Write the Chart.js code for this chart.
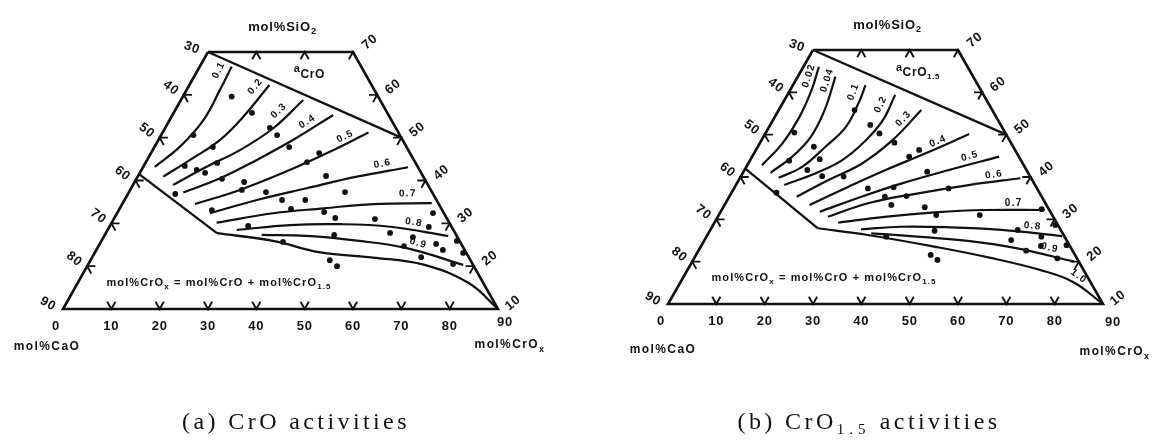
<!DOCTYPE html>
<html>
<head>
<meta charset="utf-8">
<script src="https://cdn.jsdelivr.net/npm/chart.js@4.4.1/dist/chart.umd.min.js"></script>
<style>
html,body{margin:0;padding:0;background:#fff;}
#wrap{position:relative;width:1153px;height:440px;overflow:hidden;background:#fff;}
.cv{position:absolute;top:0;height:440px;}
.cap{position:absolute;top:407px;width:300px;text-align:center;font-family:"Liberation Serif","DejaVu Serif",serif;font-size:24px;line-height:28px;letter-spacing:3.4px;color:#111;white-space:nowrap;}
.cap sub{font-size:15px;letter-spacing:5px;vertical-align:-5px;line-height:0;}
</style>
</head>
<body>
<div id="wrap">
  <div class="cv" style="left:0;width:576px"><canvas id="ca" width="576" height="440"></canvas></div>
  <div class="cv" style="left:576px;width:577px"><canvas id="cb" width="577" height="440"></canvas></div>
  <div class="cap" style="left:146px">(a) CrO activities</div>
  <div class="cap" style="left:719px">(b) CrO<sub>1.5</sub> activities</div>
</div>
<script>
// ===== axis tick values (ternary CaO - SiO2 - CrOx, truncated at SiO2 = 10..70) =====
const bottomTicks = [0, 10, 20, 30, 40, 50, 60, 70, 80, 90]; // mol% CrOx along the base (SiO2 = 10)
const leftTicks   = [30, 40, 50, 60, 70, 80, 90];             // mol% CaO along the CaO-SiO2 side
const rightTicks  = [70, 60, 50, 40, 30, 20, 10];             // mol% SiO2 along the SiO2-CrOx side
const topTicks    = [10, 20, 30];                             // mol% CrOx marks on the top edge (SiO2 = 70)

// all compositions below are [mol% CrOx, mol% SiO2]
const frame = [[0, 70], [30, 70], [90, 10], [0, 10], [0, 70]];

// ===== (a) CrO activities =====
const satA   = [[0, 70], [50, 50]];
const lowA   = [[0, 41.5], [23, 27.7]];
const edgeA  = [[23, 27.7], [35.5, 25.9], [46.7, 23.2], [58.1, 22.0], [69.2, 20.4], [81, 16], [90, 10]];
const levelsA = ['0.1', '0.2', '0.3', '0.4', '0.5', '0.6', '0.7', '0.8', '0.9'];
const a01 = [[2.4, 43.2], [5.25, 47.9], [7.0, 54.1], [6.9, 61.1], [6.6, 66.6]];
const a02 = [[5.3, 40.9], [8.9, 44.8], [12.75, 49.5], [14.85, 54.9], [16.55, 62.3]];
const a03 = [[8.3, 38.95], [13.1, 43.2], [18.05, 47.1], [22.4, 52.2], [25.3, 58.8]];
const a04 = [[11.3, 37.2], [17.25, 40.5], [22.7, 44.8], [27.9, 49.5], [33.25, 55.3]];
const a05 = [[15.05, 34.5], [22.7, 37.8], [30.75, 42.5], [36.85, 46.7], [42.6, 51.2]];
const a06 = [[19.2, 32.35], [27.4, 35.45], [36.3, 38.2], [45.35, 40.9], [54.85, 43.1]];
const a07 = [[21.7, 30.15], [32.3, 32.35], [42.15, 33.5], [51.95, 34.5], [63.95, 34.7]];
const a08 = [[26.7, 28.45], [37.2, 29.6], [47.4, 29.8], [58.1, 29.2], [71.2, 27.05]];
const a09 = [[32.45, 27.3], [41.9, 27.05], [52.8, 25.95], [64.0, 24.2], [77.65, 20.3]];
const dotsA = [
  [10.1, 59.6], [6.7, 50.6], [12.1, 47.8], [8.5, 43.4], [11.4, 42.5], [13.5, 41.8], [14.85, 44.1],
  [16.2, 55.8], [21.65, 52.3], [24.0, 50.6], [27.9, 47.8], [33.35, 44.3], [34.8, 46.4], [17.7, 40.4],
  [22.65, 39.65], [23.1, 37.8], [38.9, 41.05], [44.7, 37.3], [28.35, 37.3], [32.6, 35.45], [37.4, 35.45],
  [9.8, 36.85], [19.25, 33.1], [35.5, 33.35], [42.7, 32.65], [45.7, 31.25], [54.05, 31.0], [58.8, 27.75],
  [66.1, 29.15], [65.35, 32.4], [28.6, 29.4], [37.7, 25.65], [47.45, 27.3], [63.2, 24.7], [68.05, 22.1],
  [64.0, 26.8], [69.6, 25.2], [71.7, 23.8], [73.55, 25.9], [76.25, 23.1], [75.45, 20.5], [49.5, 21.4],
  [51.7, 20.0]
];

// ===== (b) CrO1.5 activities =====
const satB   = [[0, 70], [50, 50]];
const lowB   = [[0, 42], [22, 27.9]];
const levelsB = ['0.02', '0.04', '0.1', '0.2', '0.3', '0.4', '0.5', '0.6', '0.7', '0.8', '0.9', '1.0'];
const b002 = [[3.05, 42.8], [4.7, 47.95], [5.1, 54.2], [4.45, 60.5], [3.2, 66.05]];
const b004 = [[5.7, 41.0], [8.3, 44.8], [9.8, 49.5], [9.5, 55.8], [7.8, 63.7]];
const b01  = [[8.0, 39.8], [11.55, 42.4], [14.0, 47.15], [15.9, 51.9], [15.6, 58.2], [15.0, 61.7]];
const b02  = [[10.0, 38.1], [15.1, 40.9], [19.05, 44.0], [21.6, 48.7], [22.75, 53.5], [22.3, 59.4]];
const b03  = [[13.95, 35.35], [18.55, 39.3], [23.55, 43.2], [27.1, 48.7], [29.5, 55.8]];
const b04  = [[17.6, 33.4], [23.5, 37.7], [29.2, 41.65], [35.5, 45.6], [42.25, 50.15]];
const b05  = [[20.5, 31.8], [27.35, 35.35], [34.15, 38.5], [42.3, 41.65], [51.1, 44.8]];
const b06  = [[22.8, 30.6], [29.5, 33.8], [38.7, 36.15], [48.15, 38.1], [58.05, 39.7]];
const b07  = [[25.6, 29.2], [34.5, 30.6], [44.4, 31.65], [54.4, 32.2], [66.85, 32.2]];
const b08  = [[31.1, 27.65], [39.1, 28.25], [49.55, 28.1], [60.2, 27.5], [73.5, 26.05]];
const b09  = [[33.7, 26.7], [43.7, 25.9], [54.55, 24.9], [65.7, 23.15], [79.0, 20.0]];
const b10  = [[22, 27.9], [33.2, 26.3], [48.3, 23.55], [61.3, 20.9], [73.1, 18.0], [81.2, 15.2], [90, 10]];
const dotsB = [
  [5.9, 50.5], [11.6, 47.15], [14.3, 44.2], [8.15, 43.85], [13.0, 41.65], [16.8, 40.2], [15.7, 55.8],
  [20.7, 52.3], [23.6, 50.3], [27.8, 48.1], [32.5, 44.8], [33.75, 46.4], [21.3, 40.1], [27.7, 37.3],
  [32.2, 35.35], [32.9, 37.55], [34.5, 33.4], [36.6, 35.5], [38.0, 41.25], [44.4, 37.3], [41.7, 32.85],
  [45.0, 31.0], [54.0, 31.0], [37.2, 25.9], [9.3, 36.3], [46.5, 27.3], [63.45, 25.1], [67.8, 22.6],
  [69.3, 25.9], [70.3, 23.7], [75.15, 20.8], [75.5, 23.9], [48.55, 21.6], [50.55, 20.4], [63.6, 27.5],
  [66.1, 32.4], [70.8, 28.65]
];

// ===== rendering helpers =====
const INK = '#111111';
const FAM = '"Liberation Sans", "DejaVu Sans", Arial, sans-serif';
const TL = 1.7; // tick arm length (mol%)

const toXY = arr => arr.map(c => ({ x: c[0] + c[1] / 2, y: c[1] }));

function lineDS(arr, width, tension) {
  return {
    data: toXY(arr), showLine: true, borderColor: INK, borderWidth: width,
    pointRadius: 0, tension: tension, clip: false, fill: false,
    borderJoinStyle: 'miter', borderCapStyle: 'butt'
  };
}

function tickMarks() {
  const m = [];
  bottomTicks.filter(c => c > 0 && c < 90).forEach(c => m.push([[c - TL, 10 + TL], [c, 10], [c, 10 + TL]]));
  topTicks.forEach(c => m.push([[c, 70 - TL], [c, 70], [c + TL, 70 - TL]]));
  leftTicks.filter(v => v > 30 && v < 90).forEach(v => { const s = 100 - v; m.push([[TL, s], [0, s], [TL, s - TL]]); });
  rightTicks.filter(s => s < 70 && s > 10).forEach(s => m.push([[100 - s - TL, s], [100 - s, s], [100 - s, s - TL]]));
  return m;
}

function buildDatasets(sat, low, curves, bottomCurve, dots) {
  const ds = [];
  ds.push(lineDS(frame, 2.6, 0));
  ds.push(lineDS(sat, 2.3, 0));
  ds.push(lineDS(low, 2.3, 0));
  if (bottomCurve) ds.push(lineDS(bottomCurve, 2.3, 0.4));
  curves.forEach(c => ds.push(lineDS(c, 2.2, 0.4)));
  tickMarks().forEach(t => ds.push(lineDS(t, 1.9, 0)));
  ds.push({
    data: toXY(dots), showLine: false, pointRadius: 2.9, pointBackgroundColor: INK,
    pointBorderWidth: 0, clip: false
  });
  return ds;
}

function parseRich(str, size) {
  const out = [];
  const re = /_\{([^}]*)\}/g;
  let last = 0, m;
  while ((m = re.exec(str))) {
    if (m.index > last) out.push([str.slice(last, m.index), size, 0]);
    out.push([m[1], Math.round(size * 0.72), size * 0.35]);
    last = re.lastIndex;
  }
  if (last < str.length) out.push([str.slice(last), size, 0]);
  return out;
}

function drawParts(ctx, x, y, parts, rot, align, spacing) {
  ctx.save();
  ctx.translate(x, y);
  if (rot) ctx.rotate(rot * Math.PI / 180);
  ctx.textBaseline = 'middle';
  ctx.textAlign = 'left';
  if ('letterSpacing' in ctx) ctx.letterSpacing = (spacing || 0) + 'px';
  const w = parts.map(p => { ctx.font = 'bold ' + p[1] + 'px ' + FAM; return ctx.measureText(p[0]).width; });
  const total = w.reduce((a, b) => a + b, 0);
  let cx = align === 'left' ? 0 : (align === 'right' ? -total : -total / 2);
  parts.forEach((p, i) => { ctx.font = 'bold ' + p[1] + 'px ' + FAM; ctx.fillText(p[0], cx, p[2]); cx += w[i]; });
  ctx.restore();
}

function ternText(cfg) {
  return {
    id: 'ternText',
    afterDatasetsDraw(chart) {
      const ctx = chart.ctx;
      const xs = chart.scales.x, ys = chart.scales.y;
      const P = (c, s) => [xs.getPixelForValue(c + s / 2), ys.getPixelForValue(s)];
      ctx.save();
      ctx.fillStyle = INK;
      let p = P(15, 70);
      drawParts(ctx, p[0] + 2, p[1] - 25, parseRich('mol%SiO_{2}', 13), 0, 'center', 0.8);
      p = P(0, 10);
      drawParts(ctx, p[0] + cfg.caoOff[0], p[1] + cfg.caoOff[1], parseRich('mol%CaO', 12), 0, 'center', 1.4);
      p = P(90, 10);
      drawParts(ctx, p[0] + cfg.croxOff[0], p[1] + cfg.croxOff[1], parseRich('mol%CrO_{x}', 12), 0, 'center', 1.4);
      bottomTicks.forEach(c => {
        const q = P(c, 10);
        let dx = 0, dy = 17;
        if (c === 0) dx = -7;
        if (c === 90) { dx = cfg.b90[0]; dy = cfg.b90[1]; }
        drawParts(ctx, q[0] + dx, q[1] + dy, [[String(c), 13, 0]], 0, 'center', 0.8);
      });
      leftTicks.forEach(v => {
        const q = P(0, 100 - v);
        let off = [-13, -7], rot = 38;
        if (v === 30) { off = [-16, -4]; rot = 20; }
        if (v === 90) { off = [-15, -5]; rot = 30; }
        drawParts(ctx, q[0] + off[0], q[1] + off[1], [[String(v), 13, 0]], rot, 'center', 0.8);
      });
      rightTicks.forEach(s => {
        const q = P(100 - s, s);
        let off = [16, -8], rot = -40;
        if (s === 70) off = [17, -10];
        if (s === 10) off = [15, -6];
        drawParts(ctx, q[0] + off[0], q[1] + off[1], [[String(s), 13, 0]], rot, 'center', 0.8);
      });
      p = P(0, 10);
      drawParts(ctx, p[0] + 156, p[1] - 26, parseRich('mol%CrO_{x} = mol%CrO + mol%CrO_{1.5}', 11), 0, 'center', 1.1);
      p = P(cfg.aPos[0], cfg.aPos[1]);
      drawParts(ctx, p[0], p[1], cfg.aParts, 0, 'left', 0.6);
      // iso-activity labels along the curves
      cfg.curves.forEach((curve, i) => {
        const f = cfg.labPos[i][0], d = cfg.labPos[i][1];
        const pts = curve.map(c => P(c[0], c[1]));
        const L = [0];
        for (let k = 1; k < pts.length; k++) L.push(L[k - 1] + Math.hypot(pts[k][0] - pts[k - 1][0], pts[k][1] - pts[k - 1][1]));
        const target = f * L[L.length - 1];
        let k = 1;
        while (k < pts.length - 1 && L[k] < target) k++;
        const seg = L[k] - L[k - 1];
        const t = (target - L[k - 1]) / seg;
        const x = pts[k - 1][0] + t * (pts[k][0] - pts[k - 1][0]);
        const y = pts[k - 1][1] + t * (pts[k][1] - pts[k - 1][1]);
        let tx = (pts[k][0] - pts[k - 1][0]) / seg, ty = (pts[k][1] - pts[k - 1][1]) / seg;
        if (tx < 0) { tx = -tx; ty = -ty; }
        const nx = ty, ny = -tx;
        drawParts(ctx, x + nx * d, y + ny * d, [[cfg.levels[i], 10, 0]], Math.atan2(ty, tx) * 180 / Math.PI, 'center', 1.3);
      });
      ctx.restore();
    }
  };
}

function makeChart(id, pad, datasets, cfg) {
  return new Chart(document.getElementById(id), {
    type: 'scatter',
    data: { datasets: datasets },
    options: {
      responsive: false, animation: false, devicePixelRatio: 1, events: [],
      layout: { padding: pad },
      scales: {
        x: { type: 'linear', min: 5, max: 95, display: false },
        y: { type: 'linear', min: 10, max: 70, display: false }
      },
      plugins: { legend: { display: false }, tooltip: { enabled: false } }
    },
    plugins: [ternText(cfg)]
  });
}

const curvesA = [a01, a02, a03, a04, a05, a06, a07, a08, a09];
const curvesB = [b002, b004, b01, b02, b03, b04, b05, b06, b07, b08, b09, b10];

makeChart('ca', { left: 63, right: 78, top: 52, bottom: 131 },
  buildDatasets(satA, lowA, curvesA, edgeA, dotsA),
  {
    caoOff: [-16, 38], croxOff: [12, 36], b90: [7, 13], aPos: [20, 65.5],
    aParts: [['a', 11, -2], ['CrO', 12, 3]],
    curves: curvesA, levels: levelsA,
    labPos: [[0.93, 10], [0.93, 10], [0.84, 9], [0.85, 8], [0.88, 7], [0.88, 8], [0.89, 10], [0.83, 8], [0.76, 8]]
  });

makeChart('cb', { left: 92, right: 50, top: 50, bottom: 136 },
  buildDatasets(satB, lowB, curvesB, null, dotsB),
  {
    caoOff: [-5, 46], croxOff: [12, 48], b90: [10, 18], aPos: [19.5, 65.3],
    aParts: [['a', 11, -2], ['CrO', 12, 3], ['1.5', 8, 7]],
    curves: curvesB, levels: levelsB,
    labPos: [[0.9, 7], [0.95, 7], [0.92, 9], [0.9, 9], [0.88, 7], [0.82, 6], [0.85, 8], [0.87, 7], [0.85, 7], [0.85, 7], [0.87, 8], [0.88, 8]]
  });
</script>
</body>
</html>
